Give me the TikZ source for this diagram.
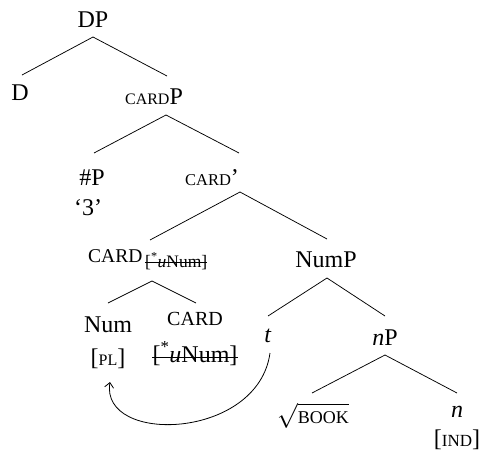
\documentclass[tikz,border=0pt]{standalone}
\usepackage{fontspec}
\setmainfont{Liberation Serif}
\usetikzlibrary{arrows.meta}
\newcommand\fsz[1]{\fontsize{#1}{#1}\selectfont}
\newcommand\smcap[2][16]{{\fsz{#1}#2}}
\begin{document}
\begin{tikzpicture}[x=1pt,y=-1pt,
  lbl/.style={inner sep=0pt, anchor=base, font={\fsz{24}}},
  branch/.style={line width=0.75pt},
  strike/.style={line width=0.75pt},
  move/.style={line width=0.8pt, -{Straight Barb[length=5pt,width=9pt]}}]
\useasboundingbox (0,0) rectangle (486,455);

% labels
\node[lbl] (DP) at (93,27) {DP};
\node[lbl] (D) at (20,100) {D};
\node[lbl] (cardP) at (154,104) {\smcap{CARD}P};
\node[lbl] (hashP) at (92,185) {\#P};
\node[lbl] (three) at (88,215) {‘3’};
\node[lbl] (cardbar) at (212,185) {\smcap[16.5]{CARD}’};
\node[lbl, anchor=base west] (cardhead) at (88,262) {\smcap[19.5]{CARD}};
\node[lbl, anchor=base west, font={\fsz{17.5}}] (headfeat) at (145,267) {[\textsuperscript{*}\textit{u}Num]};
\node[lbl] (NumP) at (326,267) {NumP};
\node[lbl] (Num) at (108,332) {Num};
\node[lbl] (pl) at (108,365) {[\smcap{PL}]};
\node[lbl] (card) at (195,325) {\smcap[20]{CARD}};
\node[lbl] (feat) at (195,362) {[\textsuperscript{*}\textit{u}Num]};
\node[lbl] (t) at (268,342) {\textit{t}};
\node[lbl] (nP) at (385,345) {\textit{n}P};
\node[lbl] (root) at (313,423) {$\sqrt{\mbox{\fsz{18}BOOK}}$};
\node[lbl] (n) at (457,417) {\textit{n}};
\node[lbl] (ind) at (457,446) {[\smcap[17]{IND}]};

% struck-out features
\draw[strike] ([yshift=5pt]headfeat.base west) -- ([yshift=5pt]headfeat.base east);
\draw[strike] ([yshift=5pt]feat.base west) -- ([yshift=5pt]feat.base east);

% branches
\draw[branch] ([xshift=2pt,yshift=25pt]D.base) -- ([yshift=-10pt]DP.base)
  -- ([xshift=13pt,yshift=28pt]cardP.base);
\draw[branch] ([xshift=2pt,yshift=32pt]hashP.base) -- ([xshift=12pt,yshift=-11pt]cardP.base)
  -- ([xshift=27pt,yshift=32pt]cardbar.base);
\draw[branch] ([xshift=62pt,yshift=22pt]cardhead.base west) -- ([xshift=28pt,yshift=-7pt]cardbar.base)
  -- ([xshift=1pt,yshift=28pt]NumP.base);
\draw[branch] ([yshift=29pt]Num.base) -- ([xshift=64pt,yshift=-19pt]cardhead.base west)
  -- ([xshift=1pt,yshift=22pt]card.base);
\draw[branch] ([yshift=26pt]t.base) -- ([xshift=1pt,yshift=-11pt]NumP.base)
  -- ([yshift=29pt]nP.base);
\draw[branch] ([xshift=-1pt,yshift=30pt]root.base) -- ([yshift=-10pt]nP.base)
  -- ([yshift=24pt]n.base);

% movement arrow
\draw[move] ([xshift=2pt,yshift=-11pt]t.base) .. controls (258,440) and (100,445) .. ([xshift=2pt,yshift=-17pt]pl.base);
\end{tikzpicture}
\end{document}
